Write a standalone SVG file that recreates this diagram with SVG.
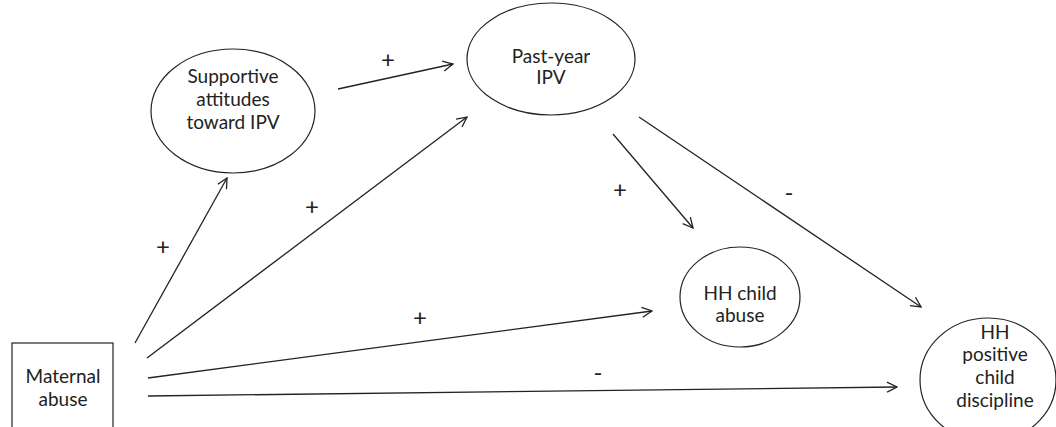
<svg xmlns="http://www.w3.org/2000/svg" width="1056" height="427" viewBox="0 0 1056 427">
<defs>
<style>
.node{fill:#fff;stroke:#222;stroke-width:1.2}
.t{font-family:Lato,"Liberation Sans",sans-serif;font-size:19px;fill:#222;text-anchor:middle}
.lbl{font-family:Lato,"Liberation Sans",sans-serif;font-size:24px;fill:#222;text-anchor:middle}
.e{stroke:#222;stroke-width:1.3;fill:none;marker-end:url(#ah)}
</style>
<marker id="ah" viewBox="0 0 12 12" refX="11" refY="6" markerWidth="12" markerHeight="12" markerUnits="userSpaceOnUse" orient="auto">
<polyline points="1,1 11,6 1,11" fill="none" stroke="#222" stroke-width="1.3"/>
</marker>
</defs>
<rect width="1056" height="427" fill="#fff"/>
<g id="connectors">
<line class="e" x1="135" y1="343" x2="227" y2="178"/>
<line class="e" x1="338" y1="89" x2="453" y2="64"/>
<line class="e" x1="147" y1="358" x2="467" y2="117"/>
<line class="e" x1="613" y1="134" x2="693" y2="228"/>
<line class="e" x1="639" y1="117" x2="921" y2="307"/>
<line class="e" x1="148" y1="378" x2="652" y2="311"/>
<line class="e" x1="148" y1="396" x2="897" y2="387"/>
<text class="lbl" x="163" y="255">+</text>
<text class="lbl" x="388" y="68">+</text>
<text class="lbl" x="312" y="215">+</text>
<text class="lbl" x="620" y="198">+</text>
<text class="lbl" x="789" y="201">-</text>
<text class="lbl" x="420" y="326">+</text>
<text class="lbl" x="598" y="381">-</text>
</g>
<g id="maternal">
<rect class="node" x="12" y="343" width="101" height="90"/>
<text class="t" x="63" y="383">Maternal</text>
<text class="t" x="63" y="406">abuse</text>
</g>
<g id="supportive">
<ellipse class="node" cx="233" cy="111" rx="82" ry="62"/>
<text class="t" x="233" y="83">Supportive</text>
<text class="t" x="233" y="106">attitudes</text>
<text class="t" x="233" y="129">toward IPV</text>
</g>
<g id="pastyear">
<ellipse class="node" cx="551" cy="59" rx="84" ry="56"/>
<text class="t" x="551" y="63">Past-year</text>
<text class="t" x="551" y="84">IPV</text>
</g>
<g id="hhchildabuse">
<ellipse class="node" cx="740" cy="297" rx="60" ry="50"/>
<text class="t" x="740" y="300">HH child</text>
<text class="t" x="740" y="322">abuse</text>
</g>
<g id="hhpositive">
<ellipse class="node" cx="988" cy="380" rx="68" ry="62"/>
<text class="t" x="995" y="339">HH</text>
<text class="t" x="995" y="361">positive</text>
<text class="t" x="995" y="384">child</text>
<text class="t" x="995" y="407">discipline</text>
</g>
</svg>
